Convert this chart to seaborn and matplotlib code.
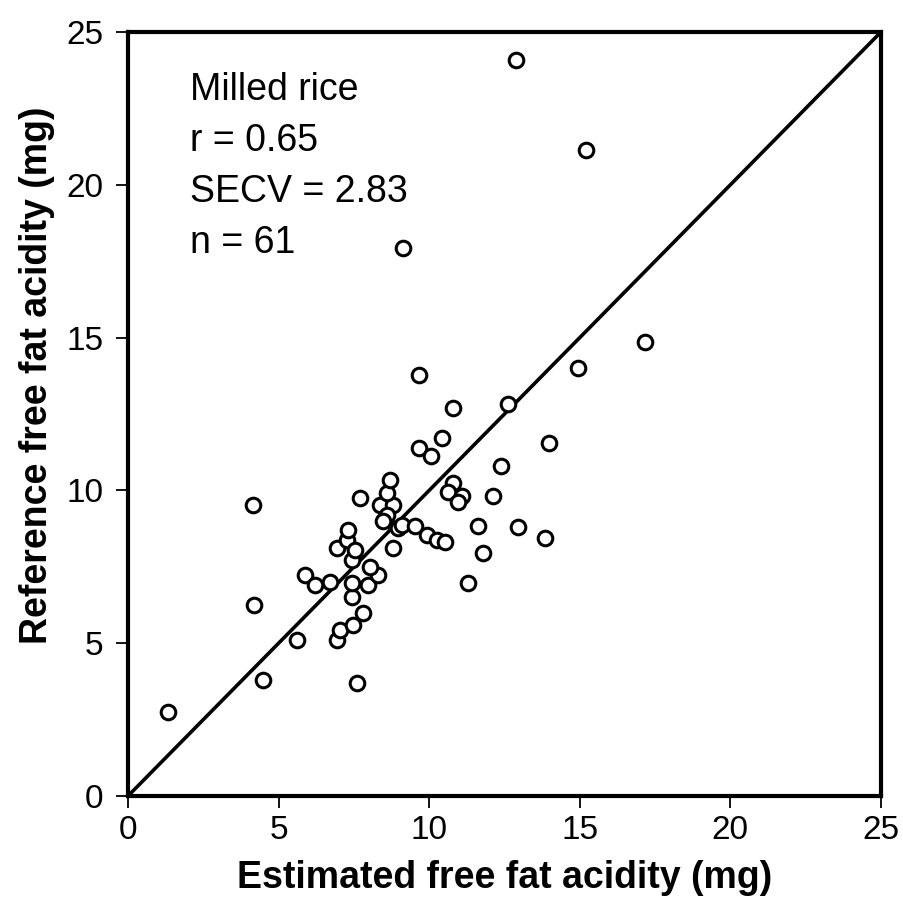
import matplotlib
matplotlib.use("Agg")
import matplotlib.pyplot as plt
import seaborn as sns
import pandas as pd

estimated = [1.33, 4.48, 4.19, 4.15, 5.61, 5.88, 6.21, 6.71, 7.60, 6.94,
             7.04, 7.47, 7.80, 7.44, 7.44, 7.97, 8.30, 8.03, 7.44, 6.94,
             7.27, 7.30, 7.70, 8.80, 8.53, 8.96, 8.37, 8.80, 8.60, 8.70,
             9.10, 9.53, 9.93, 10.26, 10.52, 9.13, 9.66, 9.66, 10.06, 10.43,
             10.79, 10.79, 10.62, 11.09, 10.96, 11.62, 11.29, 11.79, 12.12, 12.38,
             12.62, 12.95, 13.84, 13.98, 14.94, 17.16, 15.21, 12.88, 8.60, 8.45,
             7.55]
reference = [2.75, 3.80, 6.25, 9.52, 5.10, 7.23, 6.90, 7.00, 3.70, 5.10,
             5.43, 5.60, 5.99, 6.51, 6.97, 6.90, 7.23, 7.49, 7.72, 8.11,
             8.38, 8.70, 9.75, 8.11, 9.03, 8.77, 9.52, 9.52, 9.90, 10.34,
             8.87, 8.84, 8.54, 8.38, 8.31, 17.93, 13.78, 11.39, 11.13, 11.71,
             12.70, 10.24, 9.95, 9.82, 9.62, 8.84, 6.97, 7.95, 9.82, 10.80,
             12.83, 8.80, 8.44, 11.55, 14.00, 14.86, 21.14, 24.08, 9.20, 9.00,
             8.05]
line_x = [0, 25]
line_y = [0, 25]
ticks = [0, 5, 10, 15, 20, 25]
annotations = ["Milled rice", "r = 0.65", "SECV = 2.83", "n = 61"]

sns.set_theme(style="white")
plt.rcParams["font.family"] = ["Liberation Sans", "DejaVu Sans"]

df = pd.DataFrame({"est": estimated, "ref": reference})

fig = plt.figure(figsize=(9.04, 8.97), dpi=100)
ax = fig.add_axes([0.1416, 0.1126, 0.8329, 0.8517])

ax.plot(line_x, line_y, color="black", lw=2.6, zorder=1)
sns.scatterplot(data=df, x="est", y="ref", ax=ax, marker="o", s=110,
                facecolor="white", edgecolor="black", linewidth=2.2, zorder=2)

ax.set_xlim(0, 25)
ax.set_ylim(0, 25)
ax.set_xticks(ticks)
ax.set_yticks(ticks)
ax.set_xticklabels([str(t) for t in ticks])
ax.set_yticklabels([str(t) for t in ticks])
ax.tick_params(axis="both", which="major", direction="out", length=8.5, width=1.3,
               color="black", labelsize=24, labelcolor="black", pad=5,
               bottom=True, left=True)
ax.tick_params(axis="y", pad=9)
for sp in ax.spines.values():
    sp.set_color("black")
    sp.set_linewidth(3.0)

ax.set_xlabel("Estimated free fat acidity (mg)", fontsize=27, fontweight="bold",
              color="black", labelpad=10)
ax.set_ylabel("Reference free fat acidity (mg)", fontsize=27, fontweight="bold",
              color="black")
ax.yaxis.set_label_coords(-0.097, 0.551)

y0 = 23.1
for i, t in enumerate(annotations):
    ax.text(2.05, y0 - i * 1.67, t, fontsize=27, color="black", va="center", ha="left")

fig.savefig("out.png", dpi=100, facecolor="white")
